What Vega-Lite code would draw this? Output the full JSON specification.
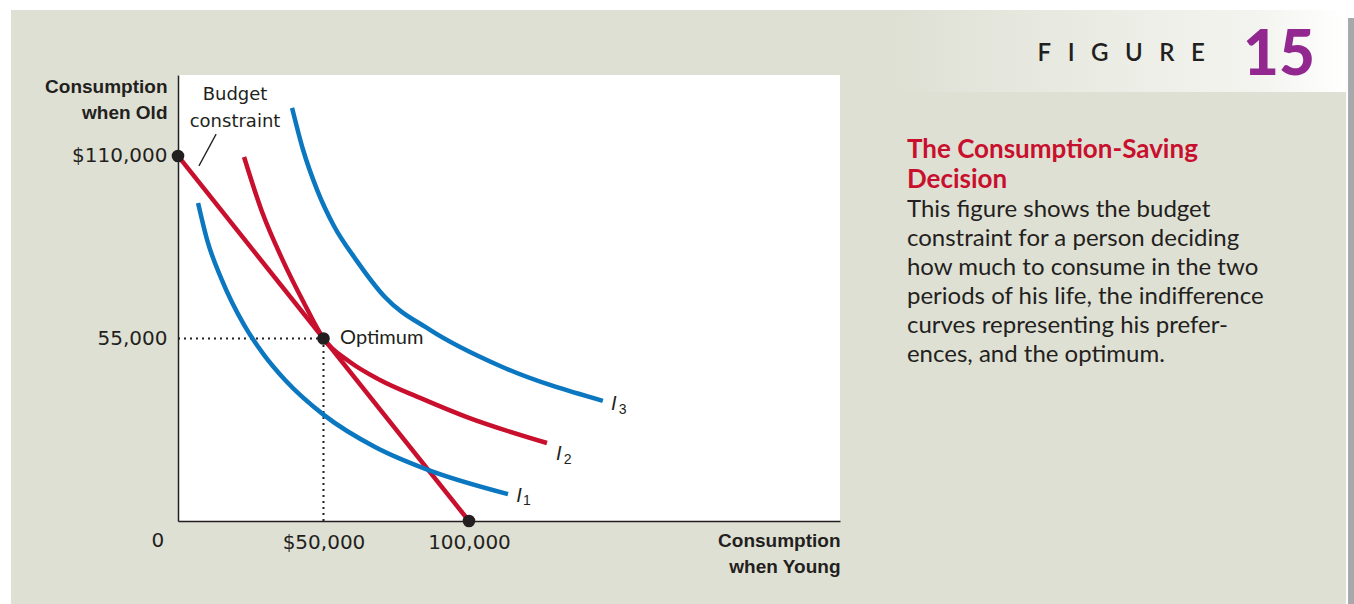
{
  "$schema": "https://vega.github.io/schema/vega-lite/v6.json",
  "width": 662,
  "height": 446,
  "autosize": {"type": "none"},
  "padding": {"left": 178, "top": 75, "right": 514, "bottom": 83},
  "background": "#dfe0d4",
  "view": {"fill": "#ffffff", "stroke": null},
  "datasets": {
    "curves": [
      {"curve": "Budget constraint", "x": 0, "y": 110000},
      {"curve": "Budget constraint", "x": 100000, "y": 0},
      {"curve": "I1", "x": 6900, "y": 95800},
      {"curve": "I1", "x": 10000, "y": 84700},
      {"curve": "I1", "x": 15100, "y": 72600},
      {"curve": "I1", "x": 22700, "y": 59100},
      {"curve": "I1", "x": 29600, "y": 50000},
      {"curve": "I1", "x": 36800, "y": 42500},
      {"curve": "I1", "x": 50200, "y": 31900},
      {"curve": "I1", "x": 67700, "y": 22300},
      {"curve": "I1", "x": 85900, "y": 15400},
      {"curve": "I1", "x": 113400, "y": 8100},
      {"curve": "I2", "x": 22700, "y": 109700},
      {"curve": "I2", "x": 28900, "y": 93100},
      {"curve": "I2", "x": 36100, "y": 78400},
      {"curve": "I2", "x": 43300, "y": 65700},
      {"curve": "I2", "x": 50000, "y": 55000},
      {"curve": "I2", "x": 59100, "y": 47900},
      {"curve": "I2", "x": 69400, "y": 42500},
      {"curve": "I2", "x": 83200, "y": 37100},
      {"curve": "I2", "x": 99300, "y": 31300},
      {"curve": "I2", "x": 126800, "y": 23500},
      {"curve": "I3", "x": 39200, "y": 124500},
      {"curve": "I3", "x": 43000, "y": 111800},
      {"curve": "I3", "x": 47800, "y": 99800},
      {"curve": "I3", "x": 53600, "y": 88900},
      {"curve": "I3", "x": 61200, "y": 78700},
      {"curve": "I3", "x": 71100, "y": 67500},
      {"curve": "I3", "x": 86600, "y": 57600},
      {"curve": "I3", "x": 110700, "y": 46700},
      {"curve": "I3", "x": 146000, "y": 36200}
    ],
    "guides": [
      {"seg": "h", "x": 0, "y": 55000},
      {"seg": "h", "x": 50000, "y": 55000},
      {"seg": "v", "x": 50000, "y": 0},
      {"seg": "v", "x": 50000, "y": 55000}
    ],
    "leader": [
      {"x": 7200, "y": 107000},
      {"x": 13100, "y": 116600}
    ],
    "points": [
      {"name": "Budget start", "x": 0, "y": 110000},
      {"name": "Optimum", "x": 50000, "y": 55000},
      {"name": "Budget end", "x": 100000, "y": 0}
    ],
    "ilabels": [
      {"t": "I", "x": 148800, "y": 35300},
      {"t": "I", "x": 129900, "y": 20200},
      {"t": "I", "x": 116200, "y": 7500}
    ],
    "isubs": [
      {"t": "3", "x": 151500, "y": 33600},
      {"t": "2", "x": 132600, "y": 18500},
      {"t": "1", "x": 118600, "y": 5900}
    ]
  },
  "layer": [
    {
      "data": {"values": [{}]},
      "mark": {"type": "rect", "color": "#ffffff"},
      "encoding": {
        "x": {"datum": -70000, "type": "quantitative"},
        "x2": {"datum": 420000},
        "y": {"datum": 154000, "type": "quantitative"},
        "y2": {"datum": 170000}
      }
    },
    {
      "data": {"values": [{}]},
      "mark": {"type": "rect", "color": "#ffffff"},
      "encoding": {
        "x": {"datum": -70000, "type": "quantitative"},
        "x2": {"datum": -57400},
        "y": {"datum": -40000, "type": "quantitative"},
        "y2": {"datum": 170000}
      }
    },
    {
      "data": {"values": [{}]},
      "mark": {"type": "rect", "color": "#ffffff"},
      "encoding": {
        "x": {"datum": 401400, "type": "quantitative"},
        "x2": {"datum": 420000},
        "y": {"datum": -40000, "type": "quantitative"},
        "y2": {"datum": 170000}
      }
    },
    {
      "data": {"values": [{}]},
      "mark": {"type": "rect", "color": "#a6a8ab"},
      "encoding": {
        "x": {"datum": 402100, "type": "quantitative"},
        "x2": {"datum": 420000},
        "y": {"datum": -40000, "type": "quantitative"},
        "y2": {"datum": 151600}
      }
    },
    {
      "data": {"values": [{}]},
      "mark": {
        "type": "rect",
        "fill": {
          "gradient": "linear",
          "x1": 0, "y1": 0, "x2": 1, "y2": 0,
          "stops": [
            {"offset": 0, "color": "#dfe0d4"},
            {"offset": 0.2, "color": "#e4e6dc"},
            {"offset": 0.8, "color": "#f3f4ef"},
            {"offset": 1, "color": "#ffffff"}
          ]
        }
      },
      "encoding": {
        "x": {"datum": 248100, "type": "quantitative"},
        "x2": {"datum": 401400},
        "y": {"datum": 129300, "type": "quantitative"},
        "y2": {"datum": 154000}
      }
    },
    {
      "data": {"name": "guides"},
      "mark": {"type": "line", "color": "#231f20", "strokeWidth": 2, "strokeDash": [2, 4]},
      "encoding": {
        "x": {"field": "x", "type": "quantitative"},
        "y": {"field": "y", "type": "quantitative"},
        "detail": {"field": "seg"}
      }
    },
    {
      "data": {"name": "curves"},
      "mark": {"type": "line", "strokeWidth": 4.5, "interpolate": "monotone", "strokeCap": "butt"},
      "encoding": {
        "x": {
          "field": "x",
          "type": "quantitative",
          "scale": {"domain": [0, 227500], "nice": false, "zero": false},
          "axis": {
            "values": [50000, 100000],
            "labelExpr": "datum.value == 50000 ? '$50,000' : '100,000'",
            "ticks": false,
            "grid": false,
            "domainColor": "#231f20",
            "domainWidth": 1.5,
            "labelFont": "DejaVu Sans",
            "labelFontSize": 20,
            "labelColor": "#231f20",
            "labelPadding": 11,
            "labelFlush": false,
            "labelOverlap": false,
            "title": ["Consumption", "when Young"],
            "titleFont": "Liberation Sans",
            "titleFontSize": 19,
            "titleFontWeight": "bold",
            "titleColor": "#231f20",
            "titleAlign": "right",
            "titleAnchor": "end",
            "titleX": 662,
            "titleY": 25,
            "titleBaseline": "alphabetic",
            "titleLineHeight": 26
          }
        },
        "y": {
          "field": "y",
          "type": "quantitative",
          "scale": {"domain": [0, 134400], "nice": false, "zero": false},
          "axis": {
            "values": [55000, 110000],
            "labelExpr": "datum.value == 110000 ? '$110,000' : '55,000'",
            "ticks": false,
            "grid": false,
            "domainColor": "#231f20",
            "domainWidth": 1.5,
            "labelFont": "DejaVu Sans",
            "labelFontSize": 20,
            "labelColor": "#231f20",
            "labelPadding": 11,
            "labelFlush": false,
            "labelOverlap": false,
            "title": ["Consumption", "when Old"],
            "titleFont": "Liberation Sans",
            "titleFontSize": 19,
            "titleFontWeight": "bold",
            "titleColor": "#231f20",
            "titleAngle": 0,
            "titleAlign": "right",
            "titleX": -11,
            "titleY": 17,
            "titleBaseline": "alphabetic",
            "titleLineHeight": 26
          }
        },
        "color": {
          "field": "curve",
          "type": "nominal",
          "scale": {"domain": ["Budget constraint", "I1", "I2", "I3"], "range": ["#c8102e", "#0a77c0", "#c8102e", "#0a77c0"]},
          "legend": null
        }
      }
    },
    {
      "data": {"name": "leader"},
      "mark": {"type": "line", "color": "#231f20", "strokeWidth": 1.3},
      "encoding": {
        "x": {"field": "x", "type": "quantitative"},
        "y": {"field": "y", "type": "quantitative"}
      }
    },
    {
      "data": {"name": "points"},
      "mark": {"type": "circle", "color": "#231f20", "opacity": 1, "size": 160},
      "encoding": {
        "x": {"field": "x", "type": "quantitative"},
        "y": {"field": "y", "type": "quantitative"}
      }
    },
    {
      "data": {"values": [{}]},
      "mark": {"type": "text", "text": ["Budget", "constraint"], "font": "DejaVu Sans", "fontSize": 18, "color": "#231f20", "align": "center", "baseline": "alphabetic", "lineHeight": 27},
      "encoding": {
        "x": {"datum": 19600, "type": "quantitative"},
        "y": {"datum": 126900, "type": "quantitative"}
      }
    },
    {
      "data": {"values": [{}]},
      "mark": {"type": "text", "text": "Optimum", "font": "Lato", "fontSize": 20, "color": "#231f20", "align": "left", "baseline": "middle"},
      "encoding": {
        "x": {"datum": 55700, "type": "quantitative"},
        "y": {"datum": 55000, "type": "quantitative"}
      }
    },
    {
      "data": {"values": [{}]},
      "mark": {"type": "text", "text": "0", "font": "DejaVu Sans", "fontSize": 20, "color": "#231f20", "align": "center", "baseline": "middle"},
      "encoding": {
        "x": {"datum": -6900, "type": "quantitative"},
        "y": {"datum": -6000, "type": "quantitative"}
      }
    },
    {
      "data": {"name": "ilabels"},
      "mark": {"type": "text", "font": "Liberation Sans", "fontStyle": "italic", "fontSize": 20, "color": "#231f20", "align": "left", "baseline": "middle"},
      "encoding": {
        "x": {"field": "x", "type": "quantitative"},
        "y": {"field": "y", "type": "quantitative"},
        "text": {"field": "t"}
      }
    },
    {
      "data": {"name": "isubs"},
      "mark": {"type": "text", "font": "Liberation Sans", "fontSize": 14, "color": "#231f20", "align": "left", "baseline": "middle"},
      "encoding": {
        "x": {"field": "x", "type": "quantitative"},
        "y": {"field": "y", "type": "quantitative"},
        "text": {"field": "t"}
      }
    },
    {
      "data": {"values": [{}]},
      "mark": {"type": "text", "text": ["The Consumption-Saving", "Decision"], "font": "Lato", "fontWeight": "bold", "fontSize": 26, "color": "#c8102e", "align": "left", "baseline": "alphabetic", "lineHeight": 30},
      "encoding": {
        "x": {"datum": 250500, "type": "quantitative"},
        "y": {"datum": 109500, "type": "quantitative"}
      }
    },
    {
      "data": {"values": [{}]},
      "mark": {
        "type": "text",
        "text": ["This figure shows the budget", "constraint for a person deciding", "how much to consume in the two", "periods of his life, the indifference", "curves representing his prefer-", "ences, and the optimum."],
        "font": "Lato", "fontSize": 24, "color": "#231f20", "align": "left", "baseline": "alphabetic", "lineHeight": 29
      },
      "encoding": {
        "x": {"datum": 250500, "type": "quantitative"},
        "y": {"datum": 91500, "type": "quantitative"}
      }
    },
    {
      "data": {"values": [{}]},
      "mark": {"type": "text", "text": "F\u2002\u2009\u200AI\u2002\u2009\u200AG\u2002\u2009\u200AU\u2002\u2009\u200AR\u2002\u2009\u200AE", "font": "Lato", "fontWeight": 600, "fontSize": 24, "color": "#231f20", "align": "right", "baseline": "alphabetic"},
      "encoding": {
        "x": {"datum": 352900, "type": "quantitative"},
        "y": {"datum": 138600, "type": "quantitative"}
      }
    },
    {
      "data": {"values": [{}]},
      "mark": {"type": "text", "text": "15", "font": "Lato", "fontWeight": 900, "fontSize": 62, "color": "#92278f", "align": "right", "baseline": "alphabetic"},
      "encoding": {
        "x": {"datum": 390700, "type": "quantitative"},
        "y": {"datum": 134400, "type": "quantitative"}
      }
    }
  ]
}
